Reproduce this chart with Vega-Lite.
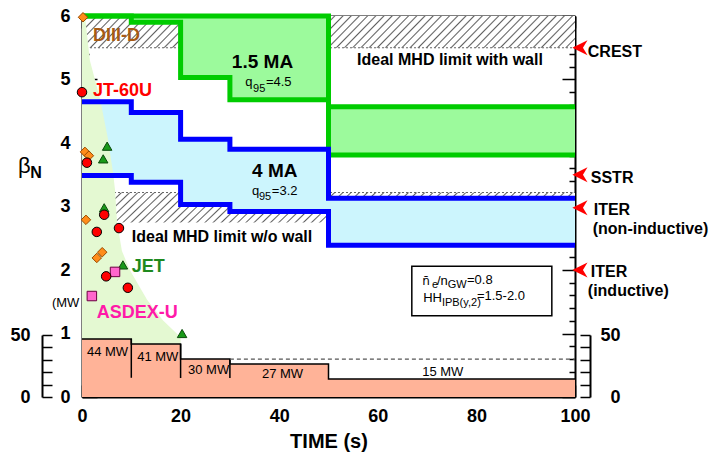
{
"$schema": "https://vega.github.io/schema/vega-lite/v6.json",
"width": 493, "height": 381,
"autosize": {"type": "none"},
"padding": {"left": 82, "top": 16, "right": 145, "bottom": 56},
"background": "#ffffff",
"config": {
 "view": {"stroke": null},
 "font": "Liberation Sans",
 "axis": {"grid": false, "domainColor": "#000000", "domainWidth": 2, "tickColor": "#000000", "tickWidth": 1.5, "labelFont": "Liberation Sans", "labelFontWeight": "bold", "labelFontSize": 18, "labelColor": "#000000", "titleFont": "Liberation Sans", "titleFontWeight": "bold", "titleFontSize": 20, "titleColor": "#000000", "zindex": 1, "labelOverlap": false, "labelFlush": false}
},
"datasets": {
 "hatch": [{"x0": 0, "x1": 100, "b0": 5.5, "b1": 6.0}, {"x0": 0, "x1": 100, "b0": 2.75, "b1": 3.22}],
 "hatchEdges": [{"x0": 0, "x1": 100, "bn": 5.5}, {"x0": 0, "x1": 100, "bn": 3.22}],
 "regime": [{"t": 0, "bn": 6}, {"t": 0.6, "bn": 6}, {"t": 1.6, "bn": 5.3}, {"t": 3.7, "bn": 4.68}, {"t": 5.3, "bn": 4.05}, {"t": 5.7, "bn": 3.84}, {"t": 6.3, "bn": 3.53}, {"t": 6.7, "bn": 3.26}, {"t": 7.1, "bn": 2.76}, {"t": 8.1, "bn": 2.3}, {"t": 9.7, "bn": 2.0}, {"t": 13.2, "bn": 1.53}, {"t": 16.4, "bn": 1.21}, {"t": 20, "bn": 0.94}],
 "green15MA": [{"t": 0, "top": 6.0, "bot": 6.0}, {"t": 10, "top": 6.0, "bot": 5.9}, {"t": 20, "top": 6.0, "bot": 5.03}, {"t": 30, "top": 6.0, "bot": 4.68}, {"t": 50, "top": 4.57, "bot": 3.81}, {"t": 100, "top": 4.57, "bot": 3.81}],
 "blue4MA": [{"t": 0, "top": 4.65, "bot": 3.49}, {"t": 10, "top": 4.48, "bot": 3.38}, {"t": 20, "top": 4.06, "bot": 3.03}, {"t": 30, "top": 3.9, "bot": 2.92}, {"t": 50, "top": 3.13, "bot": 2.39}, {"t": 100, "top": 3.13, "bot": 2.39}],
 "power": [{"t": 0, "mw": 46.8}, {"t": 10, "mw": 42.7}, {"t": 20, "mw": 30.6}, {"t": 30, "mw": 26.6}, {"t": 50, "mw": 14.5}, {"t": 100, "mw": 14.5}],
 "dividers": [{"t": 10, "top": 46.8, "bot": 15.5}, {"t": 20, "top": 42.7, "bot": 15.3}, {"t": 30, "top": 30.6, "bot": 15.3}],
 "limit30": [{"t0": 30, "t1": 100, "mw": 30.6}],
 "powerlabels": [{"t": 1.0, "mw": 33.1, "label": "44 MW"}, {"t": 11.2, "mw": 29.0, "label": "41 MW"}, {"t": 21.5, "mw": 18.5, "label": "30 MW"}, {"t": 36.5, "mw": 15.3, "label": "27 MW"}, {"t": 69.0, "mw": 16.9, "label": "15 MW"}],
 "box": [{"x0": 66.9, "x1": 95.3, "b0": 1.28, "b1": 2.06}],
 "shots": [
  {"device": "DIII-D", "t": 0.2, "bn": 5.98}, {"device": "DIII-D", "t": 0.6, "bn": 3.86}, {"device": "DIII-D", "t": 1.4, "bn": 3.8}, {"device": "DIII-D", "t": 0.8, "bn": 2.79}, {"device": "DIII-D", "t": 4.1, "bn": 2.28}, {"device": "DIII-D", "t": 3.0, "bn": 2.19},
  {"device": "JET", "t": 5.1, "bn": 3.95}, {"device": "JET", "t": 4.3, "bn": 3.75}, {"device": "JET", "t": 4.5, "bn": 2.98}, {"device": "JET", "t": 8.3, "bn": 2.08}, {"device": "JET", "t": 20.3, "bn": 1.0},
  {"device": "ASDEX-U", "t": 6.7, "bn": 1.97}, {"device": "ASDEX-U", "t": 2.0, "bn": 1.59},
  {"device": "JT-60U", "t": 0, "bn": 4.8}, {"device": "JT-60U", "t": 1.0, "bn": 3.69}, {"device": "JT-60U", "t": 4.5, "bn": 2.87}, {"device": "JT-60U", "t": 7.5, "bn": 2.66}, {"device": "JT-60U", "t": 3.0, "bn": 2.6}, {"device": "JT-60U", "t": 4.9, "bn": 1.9}, {"device": "JT-60U", "t": 9.3, "bn": 1.72}
 ],
 "targets": [{"t": 101.0, "bn": 5.5, "name": "CREST"}, {"t": 101.0, "bn": 3.5, "name": "SSTR"}, {"t": 101.0, "bn": 2.98, "name": "ITER (non-inductive)"}, {"t": 101.0, "bn": 2.0, "name": "ITER (inductive)"}],
 "labels": [
  {"t": 2.23, "bn": 5.61, "text": "DIII-D", "role": "device", "grp": "DIII-D"},
  {"t": 2.23, "bn": 4.74, "text": "JT-60U", "role": "device", "grp": "JT-60U"},
  {"t": 10.1, "bn": 1.97, "text": "JET", "role": "device", "grp": "JET"},
  {"t": 3.0, "bn": 1.24, "text": "ASDEX-U", "role": "device", "grp": "ASDEX-U"},
  {"t": 30.4, "bn": 5.18, "text": "1.5 MA", "role": "big", "grp": "none"},
  {"t": 34.5, "bn": 3.46, "text": "4 MA", "role": "big", "grp": "none"},
  {"t": 55.8, "bn": 5.23, "text": "Ideal MHD limit with wall", "role": "note", "grp": "none"},
  {"t": 10.1, "bn": 2.44, "text": "Ideal MHD limit w/o wall", "role": "note", "grp": "none"},
  {"t": 102.6, "bn": 5.35, "text": "CREST", "role": "note", "grp": "none"},
  {"t": 103.2, "bn": 3.37, "text": "SSTR", "role": "note", "grp": "none"},
  {"t": 103.8, "bn": 2.87, "text": "ITER", "role": "note", "grp": "none"},
  {"t": 103.6, "bn": 2.57, "text": "(non-inductive)", "role": "note", "grp": "none"},
  {"t": 103.2, "bn": 1.89, "text": "ITER", "role": "note", "grp": "none"},
  {"t": 102.6, "bn": 1.59, "text": "(inductive)", "role": "note", "grp": "none"},
  {"t": -10.5, "bn": 3.45, "text": "N", "role": "note", "grp": "none"},
  {"t": 33.1, "bn": 4.9, "text": "q", "role": "small", "grp": "none"},
  {"t": 37.3, "bn": 4.9, "text": "=4.5", "role": "small", "grp": "none"},
  {"t": 34.5, "bn": 3.18, "text": "q", "role": "small", "grp": "none"},
  {"t": 38.5, "bn": 3.18, "text": "=3.2", "role": "small", "grp": "none"},
  {"t": 69.0, "bn": 1.764, "text": "n̄", "role": "over", "grp": "none"},
  {"t": 72.0, "bn": 1.764, "text": "/n", "role": "small", "grp": "none"},
  {"t": 78.1, "bn": 1.78, "text": "=0.8", "role": "small", "grp": "none"},
  {"t": 69.2, "bn": 1.496, "text": "HH", "role": "small", "grp": "none"},
  {"t": 80.1, "bn": 1.528, "text": "=1.5-2.0", "role": "small", "grp": "none"},
  {"t": -6.1, "bn": 1.42, "text": "(MW", "role": "small", "grp": "none"},
  {"t": 34.7, "bn": 4.8, "text": "95", "role": "sub", "grp": "none"},
  {"t": 35.9, "bn": 3.1, "text": "95", "role": "sub", "grp": "none"},
  {"t": 71.0, "bn": 1.709, "text": "e", "role": "sub", "grp": "none"},
  {"t": 74.2, "bn": 1.709, "text": "GW", "role": "sub", "grp": "none"},
  {"t": 73.0, "bn": 1.433, "text": "IPB(y,2)", "role": "sub", "grp": "none"},
  {"t": -13.0, "bn": 3.53, "text": "β", "role": "beta", "grp": "none"}
 ]
},
"resolve": {"scale": {"y": "independent"}, "axis": {"x": "independent", "y": "independent"}},
"layer": [
 {
  "data": {"name": "hatch"},
  "mark": {"type": "rect", "fill": {"gradient": "linear", "x1": 0, "y1": 0, "x2": 1.06, "y2": 0.067, "stops": [
   {"offset": 0, "color": "#ffffff"}, {"offset": 0.01, "color": "#ffffff"}, {"offset": 0.0128, "color": "#606060"},
   {"offset": 0.0156, "color": "#ffffff"}, {"offset": 0.0256, "color": "#ffffff"}, {"offset": 0.0284, "color": "#606060"},
   {"offset": 0.0313, "color": "#ffffff"}, {"offset": 0.0413, "color": "#ffffff"}, {"offset": 0.0441, "color": "#606060"},
   {"offset": 0.0469, "color": "#ffffff"}, {"offset": 0.0569, "color": "#ffffff"}, {"offset": 0.0597, "color": "#606060"},
   {"offset": 0.0625, "color": "#ffffff"}, {"offset": 0.0725, "color": "#ffffff"}, {"offset": 0.0753, "color": "#606060"},
   {"offset": 0.0781, "color": "#ffffff"}, {"offset": 0.0881, "color": "#ffffff"}, {"offset": 0.0909, "color": "#606060"},
   {"offset": 0.0938, "color": "#ffffff"}, {"offset": 0.1038, "color": "#ffffff"}, {"offset": 0.1066, "color": "#606060"},
   {"offset": 0.1094, "color": "#ffffff"}, {"offset": 0.1194, "color": "#ffffff"}, {"offset": 0.1222, "color": "#606060"},
   {"offset": 0.125, "color": "#ffffff"}, {"offset": 0.135, "color": "#ffffff"}, {"offset": 0.1378, "color": "#606060"},
   {"offset": 0.1406, "color": "#ffffff"}, {"offset": 0.1506, "color": "#ffffff"}, {"offset": 0.1534, "color": "#606060"},
   {"offset": 0.1563, "color": "#ffffff"}, {"offset": 0.1663, "color": "#ffffff"}, {"offset": 0.1691, "color": "#606060"},
   {"offset": 0.1719, "color": "#ffffff"}, {"offset": 0.1819, "color": "#ffffff"}, {"offset": 0.1847, "color": "#606060"},
   {"offset": 0.1875, "color": "#ffffff"}, {"offset": 0.1975, "color": "#ffffff"}, {"offset": 0.2003, "color": "#606060"},
   {"offset": 0.2031, "color": "#ffffff"}, {"offset": 0.2131, "color": "#ffffff"}, {"offset": 0.2159, "color": "#606060"},
   {"offset": 0.2188, "color": "#ffffff"}, {"offset": 0.2288, "color": "#ffffff"}, {"offset": 0.2316, "color": "#606060"},
   {"offset": 0.2344, "color": "#ffffff"}, {"offset": 0.2444, "color": "#ffffff"}, {"offset": 0.2472, "color": "#606060"},
   {"offset": 0.25, "color": "#ffffff"}, {"offset": 0.26, "color": "#ffffff"}, {"offset": 0.2628, "color": "#606060"},
   {"offset": 0.2656, "color": "#ffffff"}, {"offset": 0.2756, "color": "#ffffff"}, {"offset": 0.2784, "color": "#606060"},
   {"offset": 0.2813, "color": "#ffffff"}, {"offset": 0.2913, "color": "#ffffff"}, {"offset": 0.2941, "color": "#606060"},
   {"offset": 0.2969, "color": "#ffffff"}, {"offset": 0.3069, "color": "#ffffff"}, {"offset": 0.3097, "color": "#606060"},
   {"offset": 0.3125, "color": "#ffffff"}, {"offset": 0.3225, "color": "#ffffff"}, {"offset": 0.3253, "color": "#606060"},
   {"offset": 0.3281, "color": "#ffffff"}, {"offset": 0.3381, "color": "#ffffff"}, {"offset": 0.3409, "color": "#606060"},
   {"offset": 0.3438, "color": "#ffffff"}, {"offset": 0.3538, "color": "#ffffff"}, {"offset": 0.3566, "color": "#606060"},
   {"offset": 0.3594, "color": "#ffffff"}, {"offset": 0.3694, "color": "#ffffff"}, {"offset": 0.3722, "color": "#606060"},
   {"offset": 0.375, "color": "#ffffff"}, {"offset": 0.385, "color": "#ffffff"}, {"offset": 0.3878, "color": "#606060"},
   {"offset": 0.3906, "color": "#ffffff"}, {"offset": 0.4006, "color": "#ffffff"}, {"offset": 0.4034, "color": "#606060"},
   {"offset": 0.4063, "color": "#ffffff"}, {"offset": 0.4163, "color": "#ffffff"}, {"offset": 0.4191, "color": "#606060"},
   {"offset": 0.4219, "color": "#ffffff"}, {"offset": 0.4319, "color": "#ffffff"}, {"offset": 0.4347, "color": "#606060"},
   {"offset": 0.4375, "color": "#ffffff"}, {"offset": 0.4475, "color": "#ffffff"}, {"offset": 0.4503, "color": "#606060"},
   {"offset": 0.4531, "color": "#ffffff"}, {"offset": 0.4631, "color": "#ffffff"}, {"offset": 0.4659, "color": "#606060"},
   {"offset": 0.4688, "color": "#ffffff"}, {"offset": 0.4788, "color": "#ffffff"}, {"offset": 0.4816, "color": "#606060"},
   {"offset": 0.4844, "color": "#ffffff"}, {"offset": 0.4944, "color": "#ffffff"}, {"offset": 0.4972, "color": "#606060"},
   {"offset": 0.5, "color": "#ffffff"}, {"offset": 0.51, "color": "#ffffff"}, {"offset": 0.5128, "color": "#606060"},
   {"offset": 0.5156, "color": "#ffffff"}, {"offset": 0.5256, "color": "#ffffff"}, {"offset": 0.5284, "color": "#606060"},
   {"offset": 0.5313, "color": "#ffffff"}, {"offset": 0.5413, "color": "#ffffff"}, {"offset": 0.5441, "color": "#606060"},
   {"offset": 0.5469, "color": "#ffffff"}, {"offset": 0.5569, "color": "#ffffff"}, {"offset": 0.5597, "color": "#606060"},
   {"offset": 0.5625, "color": "#ffffff"}, {"offset": 0.5725, "color": "#ffffff"}, {"offset": 0.5753, "color": "#606060"},
   {"offset": 0.5781, "color": "#ffffff"}, {"offset": 0.5881, "color": "#ffffff"}, {"offset": 0.5909, "color": "#606060"},
   {"offset": 0.5938, "color": "#ffffff"}, {"offset": 0.6038, "color": "#ffffff"}, {"offset": 0.6066, "color": "#606060"},
   {"offset": 0.6094, "color": "#ffffff"}, {"offset": 0.6194, "color": "#ffffff"}, {"offset": 0.6222, "color": "#606060"},
   {"offset": 0.625, "color": "#ffffff"}, {"offset": 0.635, "color": "#ffffff"}, {"offset": 0.6378, "color": "#606060"},
   {"offset": 0.6406, "color": "#ffffff"}, {"offset": 0.6506, "color": "#ffffff"}, {"offset": 0.6534, "color": "#606060"},
   {"offset": 0.6563, "color": "#ffffff"}, {"offset": 0.6663, "color": "#ffffff"}, {"offset": 0.6691, "color": "#606060"},
   {"offset": 0.6719, "color": "#ffffff"}, {"offset": 0.6819, "color": "#ffffff"}, {"offset": 0.6847, "color": "#606060"},
   {"offset": 0.6875, "color": "#ffffff"}, {"offset": 0.6975, "color": "#ffffff"}, {"offset": 0.7003, "color": "#606060"},
   {"offset": 0.7031, "color": "#ffffff"}, {"offset": 0.7131, "color": "#ffffff"}, {"offset": 0.7159, "color": "#606060"},
   {"offset": 0.7188, "color": "#ffffff"}, {"offset": 0.7288, "color": "#ffffff"}, {"offset": 0.7316, "color": "#606060"},
   {"offset": 0.7344, "color": "#ffffff"}, {"offset": 0.7444, "color": "#ffffff"}, {"offset": 0.7472, "color": "#606060"},
   {"offset": 0.75, "color": "#ffffff"}, {"offset": 0.76, "color": "#ffffff"}, {"offset": 0.7628, "color": "#606060"},
   {"offset": 0.7656, "color": "#ffffff"}, {"offset": 0.7756, "color": "#ffffff"}, {"offset": 0.7784, "color": "#606060"},
   {"offset": 0.7813, "color": "#ffffff"}, {"offset": 0.7913, "color": "#ffffff"}, {"offset": 0.7941, "color": "#606060"},
   {"offset": 0.7969, "color": "#ffffff"}, {"offset": 0.8069, "color": "#ffffff"}, {"offset": 0.8097, "color": "#606060"},
   {"offset": 0.8125, "color": "#ffffff"}, {"offset": 0.8225, "color": "#ffffff"}, {"offset": 0.8253, "color": "#606060"},
   {"offset": 0.8281, "color": "#ffffff"}, {"offset": 0.8381, "color": "#ffffff"}, {"offset": 0.8409, "color": "#606060"},
   {"offset": 0.8438, "color": "#ffffff"}, {"offset": 0.8538, "color": "#ffffff"}, {"offset": 0.8566, "color": "#606060"},
   {"offset": 0.8594, "color": "#ffffff"}, {"offset": 0.8694, "color": "#ffffff"}, {"offset": 0.8722, "color": "#606060"},
   {"offset": 0.875, "color": "#ffffff"}, {"offset": 0.885, "color": "#ffffff"}, {"offset": 0.8878, "color": "#606060"},
   {"offset": 0.8906, "color": "#ffffff"}, {"offset": 0.9006, "color": "#ffffff"}, {"offset": 0.9034, "color": "#606060"},
   {"offset": 0.9063, "color": "#ffffff"}, {"offset": 0.9163, "color": "#ffffff"}, {"offset": 0.9191, "color": "#606060"},
   {"offset": 0.9219, "color": "#ffffff"}, {"offset": 0.9319, "color": "#ffffff"}, {"offset": 0.9347, "color": "#606060"},
   {"offset": 0.9375, "color": "#ffffff"}, {"offset": 0.9475, "color": "#ffffff"}, {"offset": 0.9503, "color": "#606060"},
   {"offset": 0.9531, "color": "#ffffff"}, {"offset": 0.9631, "color": "#ffffff"}, {"offset": 0.9659, "color": "#606060"},
   {"offset": 0.9688, "color": "#ffffff"}, {"offset": 0.9788, "color": "#ffffff"}, {"offset": 0.9816, "color": "#606060"},
   {"offset": 0.9844, "color": "#ffffff"}, {"offset": 0.9944, "color": "#ffffff"}, {"offset": 0.9972, "color": "#606060"},
   {"offset": 1, "color": "#ffffff"}
  ]}},
  "encoding": {
   "x": {"field": "x0", "type": "quantitative", "scale": {"domain": [0, 100], "nice": false},
     "axis": {"orient": "bottom", "values": [0, 10, 20, 30, 40, 50, 60, 70, 80, 90, 100], "tickSize": -12, "labelExpr": "datum.value % 20 === 0 ? datum.label : ''", "labelPadding": 22, "title": "TIME (s)", "titlePadding": 6}},
   "x2": {"field": "x1"},
   "y": {"field": "b0", "type": "quantitative", "scale": {"domain": [0, 6], "nice": false},
     "axis": {"orient": "left", "values": [0, 1, 2, 3, 4, 5, 6], "tickSize": -15, "labelPadding": 27, "title": null}},
   "y2": {"field": "b1"}
  }
 },
 {
  "data": {"name": "hatchEdges"},
  "mark": {"type": "rule", "color": "#666666", "strokeWidth": 1, "strokeDash": [2, 2]},
  "encoding": {
   "x": {"field": "x0", "type": "quantitative", "scale": {"domain": [0, 100], "nice": false}, "axis": null},
   "x2": {"field": "x1"},
   "y": {"field": "bn", "type": "quantitative", "scale": {"domain": [0, 6], "nice": false}, "axis": null}
  }
 },
 {
  "data": {"name": "blue4MA"},
  "mark": {"type": "area", "color": "#ccf5fd", "interpolate": "step-after", "orient": "vertical"},
  "encoding": {
   "x": {"field": "t", "type": "quantitative", "scale": {"domain": [0, 100], "nice": false},
     "axis": {"orient": "bottom", "values": [5, 15, 25, 35, 45, 55, 65, 75, 85, 95], "tickSize": -6, "labels": false, "domain": false, "title": null}},
   "y": {"field": "top", "type": "quantitative", "scale": {"domain": [0, 6], "nice": false},
     "axis": {"orient": "left", "values": [0.2, 0.4, 0.6, 0.8, 1.2, 1.4, 1.6, 1.8, 2.2, 2.4, 2.6, 2.8, 3.2, 3.4, 3.6, 3.8, 4.2, 4.4, 4.6, 4.8, 5.2, 5.4, 5.6, 5.8], "tickSize": -7, "labels": false, "domain": false, "title": null}},
   "y2": {"field": "bot"}
  }
 },
 {
  "data": {"name": "green15MA"},
  "mark": {"type": "area", "color": "#9cfa9c", "interpolate": "step-after", "orient": "vertical"},
  "encoding": {
   "x": {"field": "t", "type": "quantitative", "scale": {"domain": [0, 100], "nice": false},
     "axis": {"orient": "top", "values": [0, 10, 20, 30, 40, 50, 60, 70, 80, 90, 100], "tickSize": -12, "labels": false, "title": null}},
   "y": {"field": "top", "type": "quantitative", "scale": {"domain": [0, 6], "nice": false},
     "axis": {"orient": "right", "values": [0, 1, 2, 3, 4, 5, 6], "tickSize": -13, "labels": false, "title": null}},
   "y2": {"field": "bot"}
  }
 },
 {
  "data": {"name": "regime"},
  "mark": {"type": "area", "color": "#e4f9d2", "interpolate": "linear", "orient": "vertical"},
  "encoding": {
   "x": {"field": "t", "type": "quantitative", "scale": {"domain": [0, 100], "nice": false},
     "axis": {"orient": "top", "values": [5, 15, 25, 35, 45, 55, 65, 75, 85, 95], "tickSize": -6, "labels": false, "domain": false, "title": null}},
   "y": {"field": "bn", "type": "quantitative", "scale": {"domain": [0, 6], "nice": false},
     "axis": {"orient": "right", "values": [0.2, 0.4, 0.6, 0.8, 1.2, 1.4, 1.6, 1.8, 2.2, 2.4, 2.6, 2.8, 3.2, 3.4, 3.6, 3.8, 4.2, 4.4, 4.6, 4.8, 5.2, 5.4, 5.6, 5.8], "tickSize": -6, "labels": false, "domain": false, "title": null}},
   "y2": {"datum": 0}
  }
 },
 {
  "data": {"name": "green15MA"},
  "mark": {"type": "line", "color": "#00cc00", "strokeWidth": 5, "interpolate": "step-after", "strokeCap": "butt", "strokeJoin": "miter"},
  "encoding": {
   "x": {"field": "t", "type": "quantitative", "scale": {"domain": [0, 100], "nice": false}, "axis": null},
   "y": {"field": "top", "type": "quantitative", "scale": {"domain": [0, 6], "nice": false}, "axis": null}
  }
 },
 {
  "data": {"name": "green15MA"},
  "mark": {"type": "line", "color": "#00cc00", "strokeWidth": 5, "interpolate": "step-after", "strokeCap": "butt", "strokeJoin": "miter"},
  "encoding": {
   "x": {"field": "t", "type": "quantitative", "scale": {"domain": [0, 100], "nice": false}, "axis": null},
   "y": {"field": "bot", "type": "quantitative", "scale": {"domain": [0, 6], "nice": false}, "axis": null}
  }
 },
 {
  "data": {"name": "blue4MA"},
  "mark": {"type": "line", "color": "#0000ff", "strokeWidth": 5, "interpolate": "step-after", "strokeCap": "butt", "strokeJoin": "miter"},
  "encoding": {
   "x": {"field": "t", "type": "quantitative", "scale": {"domain": [0, 100], "nice": false}, "axis": null},
   "y": {"field": "top", "type": "quantitative", "scale": {"domain": [0, 6], "nice": false}, "axis": null}
  }
 },
 {
  "data": {"name": "blue4MA"},
  "mark": {"type": "line", "color": "#0000ff", "strokeWidth": 5, "interpolate": "step-after", "strokeCap": "butt", "strokeJoin": "miter"},
  "encoding": {
   "x": {"field": "t", "type": "quantitative", "scale": {"domain": [0, 100], "nice": false}, "axis": null},
   "y": {"field": "bot", "type": "quantitative", "scale": {"domain": [0, 6], "nice": false}, "axis": null}
  }
 },
 {
  "data": {"name": "power"},
  "mark": {"type": "area", "color": "#ffb398", "interpolate": "step-after", "orient": "vertical"},
  "encoding": {
   "x": {"field": "t", "type": "quantitative", "scale": {"domain": [0, 100], "nice": false}, "axis": null},
   "y": {"field": "mw", "type": "quantitative", "scale": {"domain": [0, 50], "range": [381, 319], "nice": false},
     "axis": {"orient": "left", "offset": 40, "values": [0, 10, 20, 30, 40, 50], "tickSize": -10, "labelExpr": "datum.value % 50 === 0 ? datum.label : ''", "labelPadding": 22, "title": null}},
   "y2": {"datum": 0}
  }
 },
 {
  "data": {"name": "power"},
  "mark": {"type": "line", "color": "#000000", "strokeWidth": 1.5, "interpolate": "step-after", "strokeCap": "butt"},
  "encoding": {
   "x": {"field": "t", "type": "quantitative", "scale": {"domain": [0, 100], "nice": false}, "axis": null},
   "y": {"field": "mw", "type": "quantitative", "scale": {"domain": [0, 50], "range": [381, 319], "nice": false},
     "axis": {"orient": "right", "offset": 15, "values": [0, 10, 20, 30, 40, 50], "tickSize": -10, "labelExpr": "datum.value % 50 === 0 ? datum.label : ''", "labelAlign": "right", "labelPadding": 40, "title": null}}
  }
 },
 {
  "data": {"name": "dividers"},
  "mark": {"type": "rule", "color": "#000000", "strokeWidth": 1.5},
  "encoding": {
   "x": {"field": "t", "type": "quantitative", "scale": {"domain": [0, 100], "nice": false}, "axis": null},
   "y": {"field": "top", "type": "quantitative", "scale": {"domain": [0, 50], "range": [381, 319], "nice": false}, "axis": null},
   "y2": {"field": "bot"}
  }
 },
 {
  "data": {"name": "limit30"},
  "mark": {"type": "rule", "color": "#555555", "strokeWidth": 1.2, "strokeDash": [4, 3]},
  "encoding": {
   "x": {"field": "t0", "type": "quantitative", "scale": {"domain": [0, 100], "nice": false}, "axis": null},
   "x2": {"field": "t1"},
   "y": {"field": "mw", "type": "quantitative", "scale": {"domain": [0, 50], "range": [381, 319], "nice": false}, "axis": null}
  }
 },
 {
  "data": {"name": "powerlabels"},
  "mark": {"type": "text", "align": "left", "baseline": "alphabetic", "font": "Liberation Sans", "fontSize": 13, "color": "#000000"},
  "encoding": {
   "x": {"field": "t", "type": "quantitative", "scale": {"domain": [0, 100], "nice": false}, "axis": null},
   "y": {"field": "mw", "type": "quantitative", "scale": {"domain": [0, 50], "range": [381, 319], "nice": false}, "axis": null},
   "text": {"field": "label"}
  }
 },
 {
  "data": {"name": "box"},
  "mark": {"type": "rect", "fill": "#ffffff", "stroke": "#000000", "strokeWidth": 1.5},
  "encoding": {
   "x": {"field": "x0", "type": "quantitative", "scale": {"domain": [0, 100], "nice": false}, "axis": null},
   "x2": {"field": "x1"},
   "y": {"field": "b0", "type": "quantitative", "scale": {"domain": [0, 6], "nice": false}, "axis": null},
   "y2": {"field": "b1"}
  }
 },
 {
  "data": {"name": "shots"},
  "mark": {"type": "point", "filled": true, "opacity": 1, "strokeWidth": 1, "size": 90},
  "encoding": {
   "x": {"field": "t", "type": "quantitative", "scale": {"domain": [0, 100], "nice": false}, "axis": null},
   "y": {"field": "bn", "type": "quantitative", "scale": {"domain": [0, 6], "nice": false}, "axis": null},
   "shape": {"field": "device", "type": "nominal", "scale": {"domain": ["DIII-D", "JT-60U", "JET", "ASDEX-U"], "range": ["diamond", "circle", "triangle-up", "square"]}, "legend": null},
   "fill": {"field": "device", "type": "nominal", "scale": {"domain": ["DIII-D", "JT-60U", "JET", "ASDEX-U"], "range": ["#ff8c1a", "#ff0000", "#1a9a1a", "#ff66cc"]}, "legend": null},
   "stroke": {"field": "device", "type": "nominal", "scale": {"domain": ["DIII-D", "JT-60U", "JET", "ASDEX-U"], "range": ["#9a4a00", "#000000", "#0a4a0a", "#6a0040"]}, "legend": null}
  }
 },
 {
  "data": {"name": "targets"},
  "mark": {"type": "point", "filled": true, "opacity": 1, "color": "#ff0000", "strokeWidth": 0, "size": 230, "shape": "M -1 0 L 1 -1 L 0.4 0 L 1 1 Z"},
  "encoding": {
   "x": {"field": "t", "type": "quantitative", "scale": {"domain": [0, 100], "nice": false}, "axis": null},
   "y": {"field": "bn", "type": "quantitative", "scale": {"domain": [0, 6], "nice": false}, "axis": null}
  }
 },
 {
  "data": {"name": "labels"},
  "transform": [{"filter": "datum.role === 'device'"}],
  "mark": {"type": "text", "align": "left", "baseline": "alphabetic", "font": "Liberation Sans", "fontWeight": "bold", "fontSize": 18},
  "encoding": {
   "x": {"field": "t", "type": "quantitative", "scale": {"domain": [0, 100], "nice": false}, "axis": null},
   "y": {"field": "bn", "type": "quantitative", "scale": {"domain": [0, 6], "nice": false}, "axis": null},
   "text": {"field": "text"},
   "color": {"field": "grp", "type": "nominal", "scale": {"domain": ["DIII-D", "JT-60U", "JET", "ASDEX-U"], "range": ["#a65a14", "#ff0000", "#1e8a1e", "#ff1aa8"]}, "legend": null}
  }
 },
 {
  "data": {"name": "labels"},
  "transform": [{"filter": "datum.role === 'big'"}],
  "mark": {"type": "text", "align": "left", "baseline": "alphabetic", "font": "Liberation Sans", "fontWeight": "bold", "fontSize": 19, "color": "#000000"},
  "encoding": {
   "x": {"field": "t", "type": "quantitative", "scale": {"domain": [0, 100], "nice": false}, "axis": null},
   "y": {"field": "bn", "type": "quantitative", "scale": {"domain": [0, 6], "nice": false}, "axis": null},
   "text": {"field": "text"}
  }
 },
 {
  "data": {"name": "labels"},
  "transform": [{"filter": "datum.role === 'note'"}],
  "mark": {"type": "text", "align": "left", "baseline": "alphabetic", "font": "Liberation Sans", "fontWeight": "bold", "fontSize": 16, "color": "#000000"},
  "encoding": {
   "x": {"field": "t", "type": "quantitative", "scale": {"domain": [0, 100], "nice": false}, "axis": null},
   "y": {"field": "bn", "type": "quantitative", "scale": {"domain": [0, 6], "nice": false}, "axis": null},
   "text": {"field": "text"}
  }
 },
 {
  "data": {"name": "labels"},
  "transform": [{"filter": "datum.role === 'small'"}],
  "mark": {"type": "text", "align": "left", "baseline": "alphabetic", "font": "Liberation Sans", "fontSize": 13, "color": "#000000"},
  "encoding": {
   "x": {"field": "t", "type": "quantitative", "scale": {"domain": [0, 100], "nice": false}, "axis": null},
   "y": {"field": "bn", "type": "quantitative", "scale": {"domain": [0, 6], "nice": false}, "axis": null},
   "text": {"field": "text"}
  }
 },
 {
  "data": {"name": "labels"},
  "transform": [{"filter": "datum.role === 'over'"}],
  "mark": {"type": "text", "align": "left", "baseline": "alphabetic", "font": "DejaVu Sans", "fontSize": 12, "color": "#000000"},
  "encoding": {
   "x": {"field": "t", "type": "quantitative", "scale": {"domain": [0, 100], "nice": false}, "axis": null},
   "y": {"field": "bn", "type": "quantitative", "scale": {"domain": [0, 6], "nice": false}, "axis": null},
   "text": {"field": "text"}
  }
 },
 {
  "data": {"name": "labels"},
  "transform": [{"filter": "datum.role === 'sub'"}],
  "mark": {"type": "text", "align": "left", "baseline": "alphabetic", "font": "Liberation Sans", "fontSize": 11, "color": "#000000"},
  "encoding": {
   "x": {"field": "t", "type": "quantitative", "scale": {"domain": [0, 100], "nice": false}, "axis": null},
   "y": {"field": "bn", "type": "quantitative", "scale": {"domain": [0, 6], "nice": false}, "axis": null},
   "text": {"field": "text"}
  }
 },
 {
  "data": {"name": "labels"},
  "transform": [{"filter": "datum.role === 'beta'"}],
  "mark": {"type": "text", "align": "left", "baseline": "alphabetic", "font": "Liberation Sans", "fontSize": 22, "color": "#000000"},
  "encoding": {
   "x": {"field": "t", "type": "quantitative", "scale": {"domain": [0, 100], "nice": false}, "axis": null},
   "y": {"field": "bn", "type": "quantitative", "scale": {"domain": [0, 6], "nice": false}, "axis": null},
   "text": {"field": "text"}
  }
 }
]
}
